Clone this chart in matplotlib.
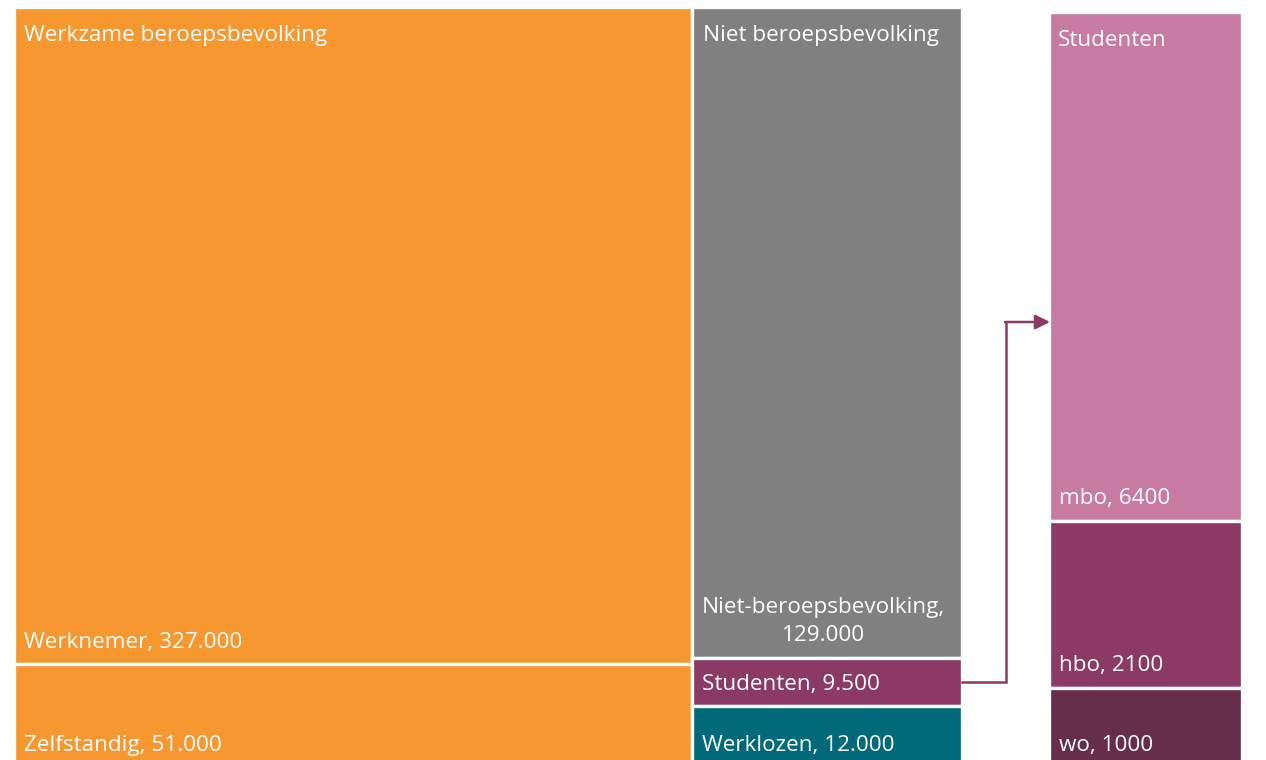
import matplotlib.pyplot as plt
from matplotlib.patches import Rectangle

# Gegevens
groep_labels = ["Werkzame beroepsbevolking", "Niet beroepsbevolking"]
werkzaam_labels = ["Werknemer", "Zelfstandig"]
werkzaam_values = [327000, 51000]
niet_labels = ["Niet-beroepsbevolking,\n", "Studenten, ", "Werklozen, "]
niet_values = [129000, 9500, 12000]
studie_titel = "Studenten"
studie_labels = ["mbo", "hbo", "wo"]
studie_values = [6400, 2100, 1000]

werkzaam_colors = ["#F7972F", "#F7972F"]
niet_colors = ["#808080", "#8A3A64", "#006A7A"]
studie_colors = ["#C77BA3", "#8A3A64", "#672D4C"]

plt.rcParams['font.family'] = ['Open Sans', 'DejaVu Sans']
FS = 16.2

fig = plt.figure(figsize=(12.66, 7.6), dpi=100)
ax = fig.add_axes([0, 0, 1, 1])
ax.set_xlim(0, 1266)
ax.set_ylim(760, 0)
ax.axis("off")


def nl(v):
    return f"{v:,}".replace(",", ".")


def kolom(x0, y0, w, h, values, colors):
    # verticaal opdelen naar waarde
    tot = sum(values)
    rects = []
    y = y0
    for v, c in zip(values, colors):
        hh = h * v / tot
        ax.add_patch(Rectangle((x0, y), w, hh, facecolor=c, edgecolor="white", lw=2.4))
        rects.append((x0, y, w, hh))
        y += hh
    return rects


def label_onder(r, txt, center=False):
    x, y, w, h = r
    if center:
        ax.text(x + 10, y + h - 12, txt, color="white", fontsize=FS, ha="left",
                va="bottom", multialignment="center", linespacing=1.45)
    else:
        ax.text(x + 10, y + h - 22, txt, color="white", fontsize=FS, ha="left", va="center")


# Hoofd-treemap
X0, Y0, W, H = 14, 7, 948, 760
totaal = sum(werkzaam_values) + sum(niet_values)
w1 = W * sum(werkzaam_values) / totaal
r_werk = kolom(X0, Y0, w1, H, werkzaam_values, werkzaam_colors)
r_niet = kolom(X0 + w1, Y0, W - w1, H, niet_values, niet_colors)

ax.text(X0 + 10, Y0 + 28, groep_labels[0], color="white", fontsize=FS, va="center")
ax.text(X0 + w1 + 11, Y0 + 28, groep_labels[1], color="white", fontsize=FS, va="center")

for r, lab, v in zip(r_werk, werkzaam_labels, werkzaam_values):
    label_onder(r, f"{lab}, {nl(v)}")
label_onder(r_niet[0], niet_labels[0] + nl(niet_values[0]), center=True)
for r, lab, v in zip(r_niet[1:], niet_labels[1:], niet_values[1:]):
    label_onder(r, lab + nl(v))

# Studenten uitsplitsing
SX, SY, SW, SH = 1049, 12, 193, 755
r_stud = kolom(SX, SY, SW, SH, studie_values, studie_colors)
ax.text(SX + 9, SY + 28, studie_titel, color="white", fontsize=FS, va="center")
for r, lab, v in zip(r_stud, studie_labels, studie_values):
    label_onder(r, f"{lab}, {v}")

# Pijl van Studenten naar uitsplitsing
xs, ys, ws, hs = r_niet[1]
ymid = ys + hs / 2
xk = 1006
ya = 322
ax.plot([xs + ws, xk, xk], [ymid, ymid, ya], color="#8A3A64", lw=1.8, solid_joinstyle="miter")
ax.annotate("", xy=(SX + 1, ya), xytext=(xk - 0.9, ya),
            arrowprops=dict(arrowstyle="-|>", color="#8A3A64", lw=1.8,
                            mutation_scale=22, shrinkA=0, shrinkB=0))

fig.savefig("out.png", dpi=100)
